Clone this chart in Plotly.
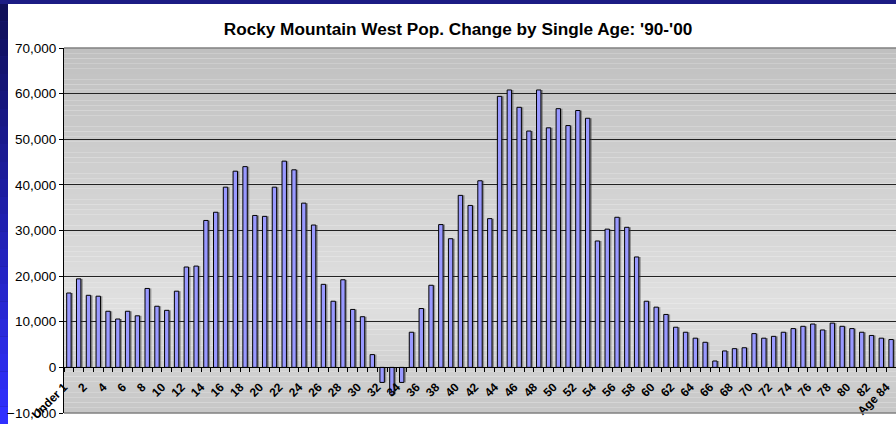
import numpy as np
import plotly.graph_objects as go

# Rocky Mountain West population change by single year of age, 1990-2000
ages = ["Under 1"] + [str(a) for a in range(1, 84)] + ["Age 84"]
change = [
    16300, 19400, 15800, 15600, 12300, 10600, 12300, 11300, 17300, 13400,
    12500, 16700, 22000, 22200, 32200, 34000, 39500, 43000, 44000, 33300,
    33100, 39500, 45200, 43300, 36000, 31200, 18200, 14500, 19200, 12700,
    11100, 2800, -3300, -5900, -3300, 7700, 12900, 18000, 31300, 28200,
    37700, 35500, 40900, 32600, 59400, 60800, 57000, 51800, 60800, 52500,
    56700, 53000, 56300, 54600, 27700, 30300, 32900, 30700, 24200, 14500,
    13200, 11600, 8800, 7700, 6400, 5500, 1400, 3600, 4100, 4300,
    7400, 6400, 6800, 7700, 8500, 9000, 9500, 8200, 9700, 9000,
    8500, 7700, 7000, 6400, 6100,
]
y_ticks = list(range(-10000, 70001, 10000))

W, H = 896, 424
L, R, T, B = 64, 0, 48, 11
pw, ph = W - L - R, H - T - B


def px(x):
    return (x - L) / pw


def py(y):
    return (H - B - y) / ph


x_pos = list(range(len(ages)))
# Excel-style rotated labels end at the left edge of their category
label_pos = [p - 0.5 for p in x_pos[::2]]
label_txt = ages[::2]

fig = go.Figure()

# soft drop shadow behind each bar
fig.add_trace(go.Bar(
    x=x_pos, y=change, width=0.45, offset=-0.225 + 0.2,
    marker=dict(color="rgba(60,60,60,0.45)", line=dict(width=0)),
    hoverinfo="skip", showlegend=False,
))
fig.add_trace(go.Bar(
    x=x_pos, y=change, width=0.45, offset=-0.225,
    marker=dict(color="#9999FF", line=dict(color="black", width=1)),
    customdata=ages, hovertemplate="%{customdata}: %{y:,}<extra></extra>",
    showlegend=False,
))

shapes = []
# white chart area over the navy slide background
shapes.append(dict(type="rect", xref="paper", yref="paper",
                   x0=px(8), x1=px(W), y0=py(H), y1=py(4),
                   fillcolor="white", line=dict(width=0), layer="below"))

# blue gradient strip on the left edge
n = 24
for i in range(n):
    t = i / (n - 1)
    r = int(16 + (48 - 16) * t)
    g = int(16 + (48 - 16) * t)
    b = int(90 + (255 - 90) * t)
    shapes.append(dict(type="rect", xref="paper", yref="paper",
                       x0=px(0), x1=px(8),
                       y0=py(4 + (H - 4) * (i + 1) / n), y1=py(4 + (H - 4) * i / n),
                       fillcolor=f"rgb({r},{g},{b})", line=dict(width=0), layer="below"))

# gray gradient plot background (darker top, light middle, slightly darker bottom)
m = 70
for i in range(m):
    t = (i + 0.5) / m  # 0 at top
    if t < 0.7:
        c = 192 + (224 - 192) * t / 0.7
    else:
        c = 224 - (224 - 198) * (t - 0.7) / 0.3
    c = int(round(c))
    shapes.append(dict(type="rect", xref="paper", yref="paper",
                       x0=0, x1=1, y0=1 - (i + 1) / m, y1=1 - i / m,
                       fillcolor=f"rgb({c},{c},{c})", line=dict(width=0), layer="below"))

# gray plot-area border top and bottom
for yv in (0, 1):
    shapes.append(dict(type="line", xref="paper", yref="paper",
                       x0=0, x1=1, y0=yv, y1=yv,
                       line=dict(color="#808080", width=1.5), layer="above"))

fig.update_layout(
    width=W, height=H,
    margin=dict(l=L, r=R, t=T, b=B),
    paper_bgcolor="#1c1c84",
    plot_bgcolor="rgba(0,0,0,0)",
    barmode="overlay",
    shapes=shapes,
    font=dict(family="Arial, Liberation Sans", color="black"),
    title=dict(
        text="Rocky Mountain West Pop. Change by Single Age: '90-'00",
        x=px(458), xanchor="center", xref="paper",
        y=1 - 29 / H, yanchor="middle",
        font=dict(size=17.2, weight="bold", color="black"),
    ),
    xaxis=dict(
        range=[-0.5, len(ages) - 0.5],
        tickmode="array", tickvals=label_pos, ticktext=label_txt,
        tickangle=-45, tickfont=dict(size=12, weight="bold"),
        ticks="outside", ticklen=7, tickcolor="rgba(0,0,0,0)",
        ticklabeloverflow="allow",
        minor=dict(tickmode="linear", tick0=-0.5, dtick=1, ticks="outside",
                   ticklen=4, tickcolor="black", showgrid=False),
        showline=True, linecolor="black", linewidth=1,
        anchor="free", position=10000 / 80000,
        showgrid=False, zeroline=False,
    ),
    yaxis=dict(
        range=[-10000, 70000],
        tickmode="array", tickvals=y_ticks, tickformat=",",
        tickfont=dict(size=13.5),
        ticks="outside", ticklen=4, tickcolor="black",
        showline=True, linecolor="black", linewidth=1,
        showgrid=True, gridcolor="#222222", gridwidth=1,
        zeroline=True, zerolinecolor="black", zerolinewidth=1,
    ),
)

# drop the default page margin so the figure fills the window exactly
fig.write_html("out.html", config={"displayModeBar": False},
               post_script="document.body.style.margin='0';")
